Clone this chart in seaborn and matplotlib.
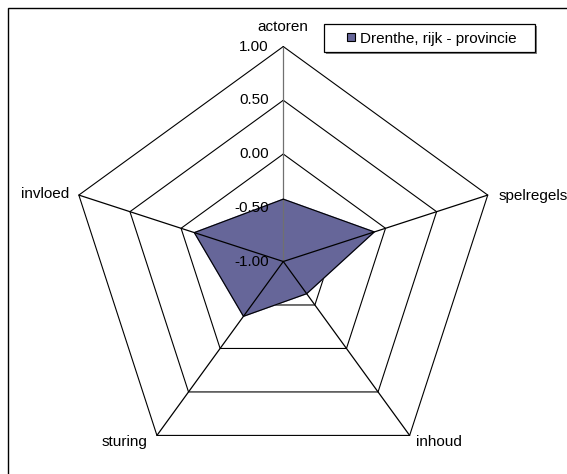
import numpy as np
import matplotlib
matplotlib.use("Agg")
import matplotlib.pyplot as plt
from matplotlib.patches import Rectangle, Patch
import seaborn as sns

# --- data ---
categories = ['actoren', 'spelregels', 'inhoud', 'sturing', 'invloed']
values = [-0.42, -0.11, -0.63, -0.37, -0.13]
series_name = 'Drenthe, rijk - provincie'
ring_values = [-1.0, -0.5, 0.0, 0.5, 1.0]
ring_labels = ['-1.00', '-0.50', '0.00', '0.50', '1.00']
v_min = -1.0

sns.set_style('white')
plt.rcParams['font.family'] = ['Liberation Sans', 'DejaVu Sans']
plt.rcParams['text.color'] = 'black'
fill_color = '#666699'
FS = 11
W, H = 567, 474


def to_xy(vals):
    """Zet waarden om naar x/y op de radar (met de klok mee vanaf boven)."""
    n = len(categories)
    ang = np.pi / 2 - 2 * np.pi * np.arange(n) / n
    r = np.asarray(vals, dtype=float) - v_min
    return r * np.cos(ang), r * np.sin(ang)


fig = plt.figure(figsize=(W / 100, H / 100), dpi=100)
ax = fig.add_axes([0, 0, 1, 1])
ax.set_xlim(-2.635, 2.639)
ax.set_ylim(-1.977, 2.433)
ax.set_aspect('equal')
ax.axis('off')

# ringen
for rv in ring_values[1:]:
    x, y = to_xy([rv] * len(categories))
    ax.plot(np.append(x, x[0]), np.append(y, y[0]), color='black', lw=0.8, zorder=1)

# data
x, y = to_xy(values)
ax.fill(x, y, color=fill_color, zorder=2)
ax.plot(np.append(x, x[0]), np.append(y, y[0]), color='black', lw=0.8, zorder=4)

# spaken
ox, oy = to_xy([ring_values[-1]] * len(categories))
for i, (px, py) in enumerate(zip(ox, oy)):
    ax.plot([0, px], [0, py], color='#707070' if i == 0 else 'black', lw=0.9, zorder=3)

# schaal labels
for rv, lab in zip(ring_values, ring_labels):
    ax.annotate(lab, xy=(0, rv - v_min), xytext=(-10.5, 0), textcoords='offset points',
                ha='right', va='center', fontsize=FS)

# categorie labels (offset in punten, basislijn)
offsets = [(0, 11, 'center'), (7.5, -3.3, 'left'),
           (4.8, -7.6, 'left'), (-7, -7.6, 'right'),
           (-6.8, -2.4, 'right')]
for cat, px, py, (dx, dy, ha) in zip(categories, ox, oy, offsets):
    ax.annotate(cat, xy=(px, py), xytext=(dx, dy), textcoords='offset points',
                ha=ha, va='baseline', fontsize=FS)

# legenda: kader + schaduw los getekend
lx0, ly0, lx1, ly1 = 324, 24, 535, 52
fig.patches.append(Rectangle(((lx0 + 2) / W, 1 - (ly1 + 2) / H), (lx1 - lx0) / W, (ly1 - ly0) / H,
                             transform=fig.transFigure, facecolor='#808080',
                             edgecolor='none', zorder=5))
fig.patches.append(Rectangle((lx0 / W, 1 - ly1 / H), (lx1 - lx0) / W, (ly1 - ly0) / H,
                             transform=fig.transFigure, facecolor='white',
                             edgecolor='black', lw=0.9, zorder=6))
handle = Patch(facecolor=fill_color, edgecolor='black', linewidth=0.8, label=series_name)
leg = fig.legend(handles=[handle], loc='center left',
                 bbox_to_anchor=(347 / W, 1 - 38.5 / H), bbox_transform=fig.transFigure,
                 borderaxespad=0, borderpad=0, frameon=False, fontsize=FS,
                 handlelength=0.5, handleheight=0.5, handletextpad=0.35)
leg.set_zorder(7)

# kader rond de grafiek
fig.patches.append(Rectangle((8 / W, -0.1), 1.2, 1.1 - 8 / H,
                             transform=fig.transFigure, fill=False,
                             edgecolor='black', lw=1))

fig.savefig('out.png', dpi=100)
